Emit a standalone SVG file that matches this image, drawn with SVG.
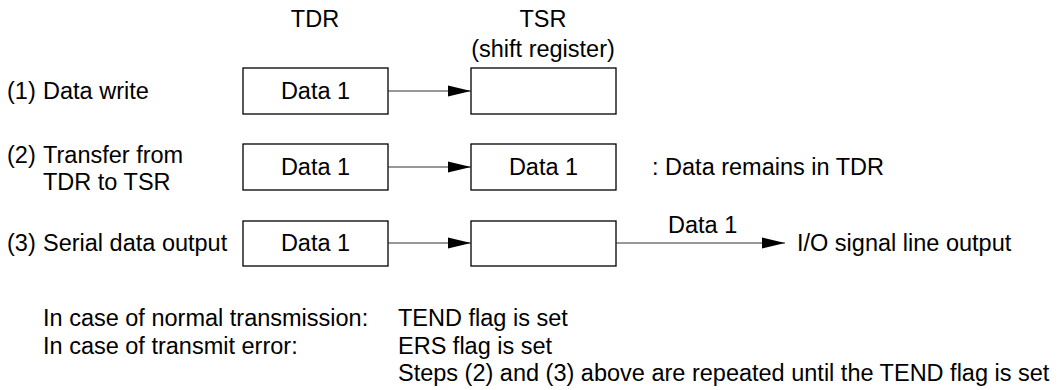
<svg xmlns="http://www.w3.org/2000/svg" width="1063" height="390" viewBox="0 0 1063 390">
<style>
  text { font-family: "Liberation Sans", Arial, sans-serif; font-size: 23.5px; fill: #000; }
  .mid { text-anchor: middle; }
  .box { fill: #fff; stroke: #000; stroke-width: 1.3; }
  .conn { stroke: #333; stroke-width: 1.2; fill: none; marker-end: url(#ah); }
</style>
<defs>
  <marker id="ah" markerUnits="userSpaceOnUse" markerWidth="24" markerHeight="12" refX="23" refY="6" orient="auto">
    <path d="M0,0.5 L23,6 L0,11.5 Z" fill="#000"/>
  </marker>
</defs>
<g id="headers">
  <text class="mid" x="315" y="27">TDR</text>
  <text class="mid" x="543" y="27">TSR</text>
  <text class="mid" x="543" y="57">(shift register)</text>
</g>
<g id="row-labels">
  <text x="7" y="99">(1)</text><text x="43" y="99">Data write</text>
  <text x="7" y="163">(2)</text><text x="43" y="163">Transfer from</text>
  <text x="43" y="190">TDR to TSR</text>
  <text x="7" y="251">(3)</text><text x="43" y="251">Serial data output</text>
</g>
<g id="tdr1"><rect class="box" x="243" y="68" width="145" height="46"/><text class="mid" x="315.5" y="99">Data 1</text></g>
<g id="tsr1"><rect class="box" x="471" y="68" width="145" height="46"/></g>
<g id="tdr2"><rect class="box" x="243" y="144" width="145" height="46"/><text class="mid" x="315.5" y="175">Data 1</text></g>
<g id="tsr2"><rect class="box" x="471" y="144" width="145" height="46"/><text class="mid" x="543.5" y="175">Data 1</text></g>
<g id="tdr3"><rect class="box" x="243" y="221" width="145" height="45"/><text class="mid" x="315.5" y="251">Data 1</text></g>
<g id="tsr3"><rect class="box" x="471" y="221" width="145" height="45"/></g>
<g id="connectors">
  <line class="conn" x1="388" y1="91" x2="471" y2="91"/>
  <line class="conn" x1="388" y1="167" x2="471" y2="167"/>
  <line class="conn" x1="388" y1="243" x2="471" y2="243"/>
  <line class="conn" x1="616" y1="243" x2="785" y2="243"/>
</g>
<g id="annotations">
  <text x="652" y="175">: Data remains in TDR</text>
  <text x="668" y="233">Data 1</text>
  <text x="797" y="251">I/O signal line output</text>
</g>
<g id="notes">
  <text x="43" y="326">In case of normal transmission:</text>
  <text x="398" y="326">TEND flag is set</text>
  <text x="43" y="354">In case of transmit error:</text>
  <text x="398" y="354">ERS flag is set</text>
  <text x="398" y="381">Steps (2) and (3) above are repeated until the TEND flag is set</text>
</g>
</svg>
